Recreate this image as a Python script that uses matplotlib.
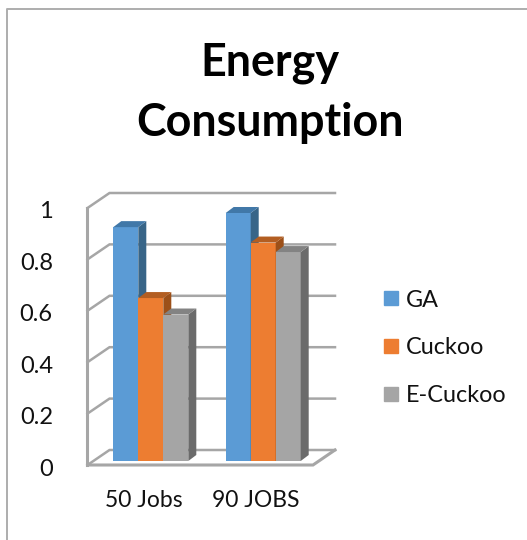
import matplotlib
matplotlib.use("Agg")
import matplotlib.pyplot as plt
from matplotlib.patches import Patch
from matplotlib.transforms import Affine2D

plt.rcParams["font.family"] = ["Lato", "DejaVu Sans"]

categories = ["50 Jobs", "90 JOBS"]
series_names = ["GA", "Cuckoo", "E-Cuckoo"]
ga_values = [0.91, 0.965]
cuckoo_values = [0.634, 0.85]
ecuckoo_values = [0.57, 0.813]
y_ticks = [0, 0.2, 0.4, 0.6, 0.8, 1]
y_labels = ["0", "0.2", "0.4", "0.6", "0.8", "1"]

W, H = 527, 540
# plot box in pixels, measured from the top left corner
LEFT, RIGHT, TOP, BOTTOM = 87.5, 313.0, 208.0, 465.0
GROUP_STEP = 112.4
BAR_PX = 25.0
WALL_DX, WALL_DY = 22.0, 15.0
BAR_DX, BAR_DY = 8.0, 6.0
BAR_LIFT = 4.0
GRID = "#a6a6a6"

fronts = ["#5b9bd5", "#ed7d31", "#a5a5a5"]
tops = ["#4178a8", "#b35e22", "#838383"]
sides = ["#386588", "#9c5019", "#6b6b6b"]

fig = plt.figure(figsize=(W / 100, H / 100), dpi=100)
ax = fig.add_axes([LEFT / W, 1 - BOTTOM / H, (RIGHT - LEFT) / W, (BOTTOM - TOP) / H])
ax.patch.set_alpha(0)
ax.set_xlim((LEFT - 150.8) / GROUP_STEP, (RIGHT - 150.8) / GROUP_STEP)
ax.set_ylim(0, 1)
for s in ax.spines.values():
    s.set_visible(False)

ppx = 1 / GROUP_STEP  # data units per pixel, x
ppy = 1 / (BOTTOM - TOP)  # data units per pixel, y
x0, x1 = ax.get_xlim()
wdx, wdy = WALL_DX * ppx, WALL_DY * ppy

# walls and floor of the 3d box
ax.plot([x0, x0], [0, 1], color=GRID, lw=2.2, clip_on=False, zorder=1)
for v in y_ticks:
    ax.plot([x0, x0 + wdx, x1 + wdx], [v, v + wdy, v + wdy], color=GRID, lw=1.8,
            clip_on=False, zorder=1, solid_joinstyle="miter")
ax.plot([x0, x1, x1 + wdx], [0, 0, wdy], color=GRID, lw=2.2, clip_on=False, zorder=1,
        solid_joinstyle="miter")

# front faces sit a little above the front edge of the floor
lift = BAR_LIFT * ppy
bar_w = BAR_PX * ppx
ddx, ddy = BAR_DX * ppx, BAR_DY * ppy
lift_tr = ax.transData + Affine2D().translate(0, BAR_LIFT)
all_values = [ga_values, cuckoo_values, ecuckoo_values]
for i, values in enumerate(all_values):
    for j, v in enumerate(values):
        xl = j + (i - 1.5) * bar_w
        xr = xl + bar_w
        ax.bar(xl, v, bar_w, align="edge", color=fronts[i], transform=lift_tr,
               clip_on=False, zorder=2 + i)
        ax.fill([xr, xr + ddx, xr + ddx, xr],
                [lift, lift + ddy, lift + v + ddy, lift + v],
                color=sides[i], lw=0, clip_on=False, zorder=2 + i)
        ax.fill([xl, xl + ddx, xr + ddx, xr],
                [lift + v, lift + v + ddy, lift + v + ddy, lift + v],
                color=tops[i], lw=0, clip_on=False, zorder=2 + i)

ax.set_yticks(y_ticks, y_labels, fontsize=17, color="#111111")
ax.set_xticks([0, 1], categories, fontsize=16.5, color="#111111")
ax.tick_params(axis="both", length=0)
ax.tick_params(axis="y", pad=25)
ax.tick_params(axis="x", pad=18)
# category labels sit a bit left of the bar groups, value labels a bit lower
for lab in ax.get_xticklabels():
    lab.set_transform(lab.get_transform() + Affine2D().translate(-7, 0))
for lab in ax.get_yticklabels():
    lab.set_transform(lab.get_transform() + Affine2D().translate(0, -2))

handles = [Patch(color=c, label=n) for c, n in zip(fronts, series_names)]
leg = fig.legend(handles=handles, loc="center left", bbox_to_anchor=(384 / W, 1 - 348 / H),
                 frameon=False, fontsize=16.8, handlelength=0.6, handleheight=0.55,
                 handletextpad=0.33, labelspacing=1.15, borderpad=0, borderaxespad=0)
for t in leg.get_texts():
    t.set_color("#111111")

fig.text(270 / W, 1 - 63 / H, "Energy", ha="center", va="center", fontsize=32.3, fontweight="bold", color="black")
fig.text(270 / W, 1 - 123 / H, "Consumption", ha="center", va="center", fontsize=32.3, fontweight="bold", color="black")

# chart area border
fig.add_artist(plt.Line2D([7 / W, 7 / W, 1], [0, 1 - 9 / H, 1 - 9 / H], color="#adadad", lw=1.4))

fig.savefig("out.png", dpi=100)
